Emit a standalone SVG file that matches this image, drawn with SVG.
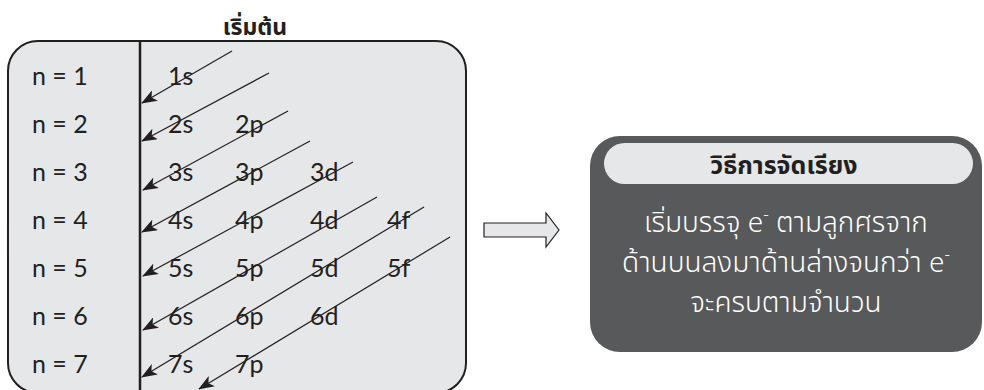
<svg xmlns="http://www.w3.org/2000/svg" width="984" height="390" viewBox="0 0 984 390">
<defs>
<marker id="ah" markerUnits="userSpaceOnUse" markerWidth="16" markerHeight="12" viewBox="0 0 16 12" refX="15" refY="6" orient="auto">
<path d="M0,0 L16,6 L0,12 L4,6 z" fill="#231f20"/>
</marker>
</defs>
<style>
.lbl{font-family:"Lato","Noto Sans",sans-serif;font-size:25px;fill:#231f20}
.orb{font-family:"Lato","Noto Sans",sans-serif;font-size:25px;fill:#231f20}
.th{font-family:"Noto Sans Thai","Noto Sans","Lato",sans-serif}
.body{font-size:28px;font-weight:300;fill:#ffffff}
.arr{stroke:#231f20;stroke-width:1.2;fill:none;marker-end:url(#ah)}
</style>
<rect width="984" height="390" fill="#ffffff"/>
<g id="left-panel">
<text x="255" y="35" text-anchor="middle" class="th" font-size="23" font-weight="bold" fill="#231f20">เริ่มต้น</text>
<rect x="8" y="41" width="458" height="352" rx="30" ry="30" fill="#e6e7e8" stroke="#231f20" stroke-width="2"/>
<line x1="140" y1="41" x2="140" y2="392" stroke="#231f20" stroke-width="2.5"/>
</g>
<g id="levels">
<text class="lbl" x="32" y="85">n = 1</text>
<text class="lbl" x="32" y="133">n = 2</text>
<text class="lbl" x="32" y="181">n = 3</text>
<text class="lbl" x="32" y="229">n = 4</text>
<text class="lbl" x="32" y="277">n = 5</text>
<text class="lbl" x="32" y="325">n = 6</text>
<text class="lbl" x="32" y="373">n = 7</text>
</g>
<g id="orbitals">
<text class="orb" x="168" y="85">1s</text>
<text class="orb" x="168" y="133">2s</text>
<text class="orb" x="235" y="133">2p</text>
<text class="orb" x="168" y="181">3s</text>
<text class="orb" x="235" y="181">3p</text>
<text class="orb" x="310" y="181">3d</text>
<text class="orb" x="168" y="229">4s</text>
<text class="orb" x="235" y="229">4p</text>
<text class="orb" x="310" y="229">4d</text>
<text class="orb" x="387" y="229">4f</text>
<text class="orb" x="168" y="277">5s</text>
<text class="orb" x="235" y="277">5p</text>
<text class="orb" x="310" y="277">5d</text>
<text class="orb" x="387" y="277">5f</text>
<text class="orb" x="168" y="325">6s</text>
<text class="orb" x="235" y="325">6p</text>
<text class="orb" x="310" y="325">6d</text>
<text class="orb" x="168" y="373">7s</text>
<text class="orb" x="235" y="373">7p</text>
</g>
<g id="connectors">
<line class="arr" x1="232" y1="51" x2="142" y2="103"/>
<line class="arr" x1="269" y1="73" x2="142" y2="141"/>
<line class="arr" x1="288" y1="111" x2="143" y2="190"/>
<line class="arr" x1="310" y1="141" x2="142" y2="232"/>
<line class="arr" x1="353" y1="162" x2="143" y2="276"/>
<line class="arr" x1="377" y1="197" x2="143" y2="330"/>
<line class="arr" x1="424" y1="207" x2="142" y2="377"/>
<line class="arr" x1="450" y1="237" x2="199" y2="389"/>
<path d="M484,223 L546,223 L546,213 L559,230 L546,247 L546,237 L484,237 Z" fill="#e6e7e8" stroke="#231f20" stroke-width="1.2"/>
</g>
<g id="method-box">
<rect x="590" y="136" width="392" height="216" rx="30" ry="30" fill="#58595b"/>
<rect x="604" y="143" width="369" height="41" rx="20.5" ry="20.5" fill="#e6e7e8"/>
<text x="784" y="174" text-anchor="middle" class="th" font-size="25" font-weight="bold" fill="#231f20">วิธีการจัดเรียง</text>
<text x="786" y="232" text-anchor="middle" class="th body">เริ่มบรรจุ e<tspan dy="-12" font-size="17">-</tspan><tspan dy="12"> ตามลูกศรจาก</tspan></text>
<text x="786" y="272" text-anchor="middle" class="th body">ด้านบนลงมาด้านล่างจนกว่า e<tspan dy="-12" font-size="17">-</tspan></text>
<text x="786" y="312" text-anchor="middle" class="th body">จะครบตามจำนวน</text>
</g>
</svg>
